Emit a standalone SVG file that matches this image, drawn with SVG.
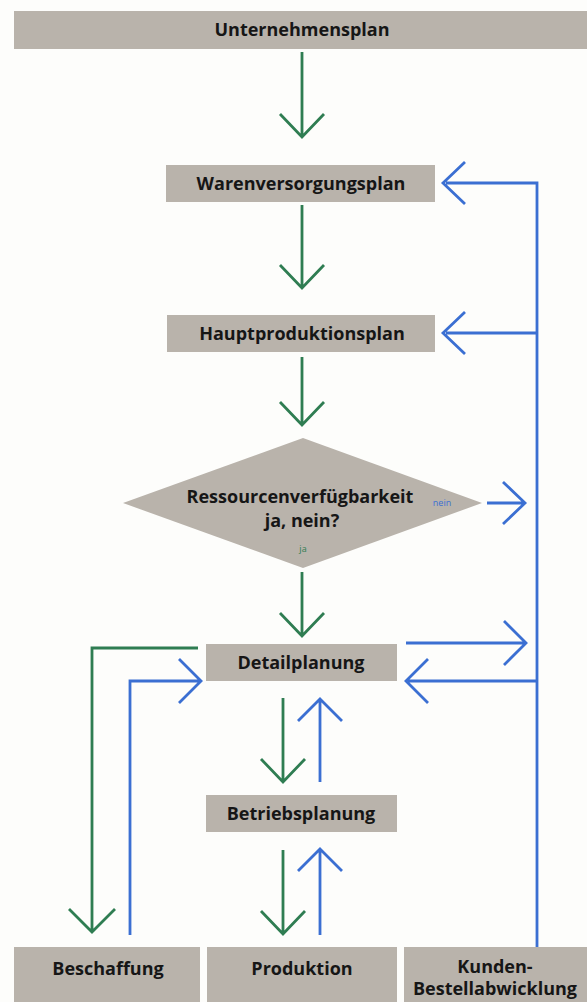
<svg xmlns="http://www.w3.org/2000/svg" width="587" height="1002" viewBox="0 0 587 1002">
<style>
.box{fill:#b9b3ab}
.t{font-family:"Open Sans","Liberation Sans",sans-serif;font-weight:bold;font-size:18px;fill:#161616;text-anchor:middle}
.g{fill:none;stroke:#2f7d52;stroke-width:2.8}
.b{fill:none;stroke:#3b6fd2;stroke-width:2.8}
</style>
<rect width="587" height="1002" fill="#fdfdfb"/>
<g id="connectors">
<!-- green main flow -->
<path class="g" d="M302 52V136M280 114L302 137L324 114"/>
<path class="g" d="M302 205V288M280 265L302 288L324 265"/>
<path class="g" d="M302 357V425M280 402L302 425L324 402"/>
<path class="g" d="M302 572V636M280 613L302 636L324 613"/>
<!-- blue feedback -->
<path class="b" d="M537 972V183H446M465 162L443 183L465 204"/>
<path class="b" d="M537 333H446M465 312L443 333L465 354"/>
<path class="b" d="M487 503H523M503 482L525 503L503 524"/>
<path class="b" d="M406 643H524M504 621L526 643L504 665"/>
<path class="b" d="M537 681H408M428 659L406 681L428 703"/>
<!-- left loops -->
<path class="g" d="M198 648H92V930M69 909L92 932L115 909"/>
<path class="b" d="M130 935V681H200M179 659L201 681L179 703"/>
<!-- Detail <-> Betrieb -->
<path class="g" d="M283 698V780M261 759L283 782L305 759"/>
<path class="b" d="M320 782V701M298 721L320 699L342 721"/>
<!-- Betrieb <-> Produktion -->
<path class="g" d="M283 850V932M261 911L283 934L305 911"/>
<path class="b" d="M320 935V851M298 871L320 849L342 871"/>
</g>
<g id="n-unternehmensplan"><rect class="box" x="14" y="11" width="573" height="38"/><text class="t" x="302" y="36">Unternehmensplan</text></g>
<g id="n-warenversorgungsplan"><rect class="box" x="166" y="165" width="269" height="37"/><text class="t" x="301" y="190">Warenversorgungsplan</text></g>
<g id="n-hauptproduktionsplan"><rect class="box" x="167" y="315" width="268" height="37"/><text class="t" x="302" y="340">Hauptproduktionsplan</text></g>
<g id="n-ressourcen">
<polygon class="box" points="303,438 482,503 303,568 123,503"/>
<text class="t" x="300" y="503">Ressourcenverfügbarkeit</text>
<text class="t" x="302" y="527">ja, nein?</text>
<text x="442" y="506" font-family="Open Sans, sans-serif" font-size="9" fill="#3b6fd2" text-anchor="middle">nein</text>
<text x="303" y="552" font-family="Open Sans, sans-serif" font-size="9" fill="#2f7d52" text-anchor="middle">ja</text>
</g>
<g id="n-detailplanung"><rect class="box" x="206" y="644" width="191" height="37"/><text class="t" x="301" y="669">Detailplanung</text></g>
<g id="n-betriebsplanung"><rect class="box" x="206" y="795" width="191" height="37"/><text class="t" x="301" y="820">Betriebsplanung</text></g>
<g id="n-beschaffung"><rect class="box" x="14" y="947" width="186" height="55"/><text class="t" x="108" y="975">Beschaffung</text></g>
<g id="n-produktion"><rect class="box" x="207" y="947" width="190" height="55"/><text class="t" x="302" y="975">Produktion</text></g>
<g id="n-kunden"><rect class="box" x="404" y="947" width="183" height="55"/><text class="t" x="495" y="973">Kunden-</text><text class="t" x="495" y="995">Bestellabwicklung</text></g>
</svg>
